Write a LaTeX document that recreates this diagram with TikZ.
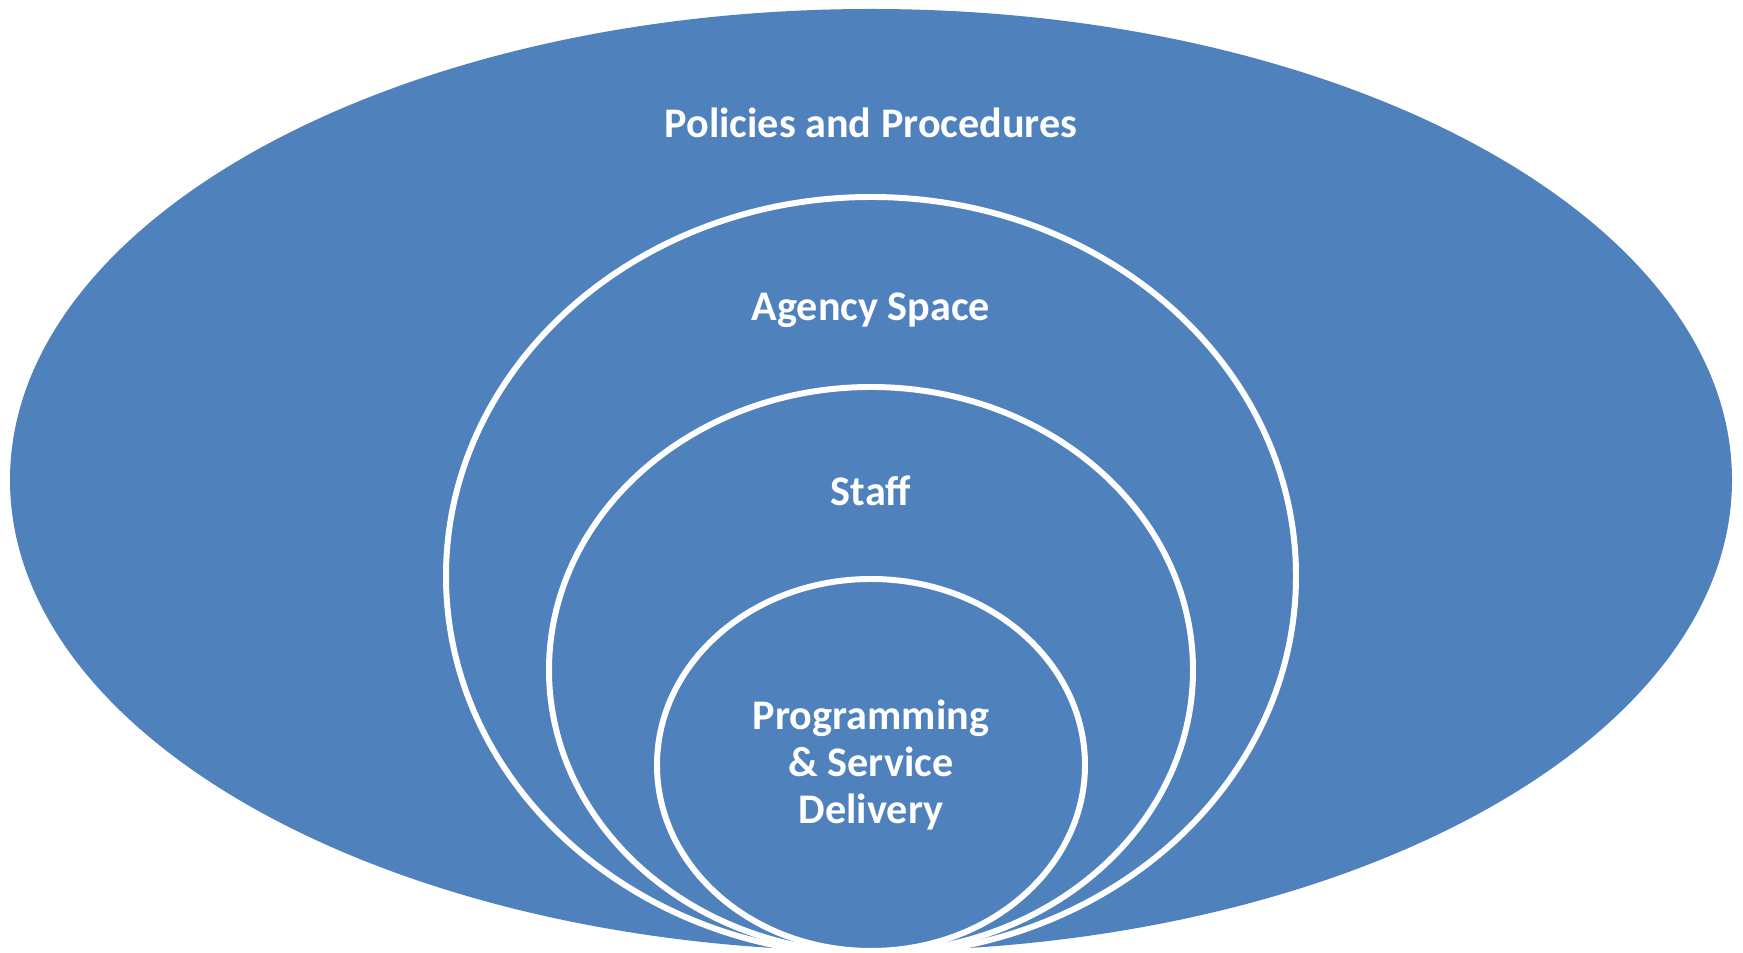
\documentclass[tikz,border=0pt]{standalone}
\usepackage{fontspec}
\setmainfont{Carlito}
\usepackage{xcolor}
\usepackage{tikz}
\usetikzlibrary{positioning, shapes.geometric}

\definecolor{layerblue}{HTML}{4F81BD}

\begin{document}
\begin{tikzpicture}[
    layer/.style={ellipse, fill=layerblue, inner sep=0pt},
    inner layer/.style={layer, draw=white, line width=1.7pt},
    label/.style={text=white, align=center, font=\bfseries\fontsize{12}{13.4}\selectfont}
]

\useasboundingbox (0,0) rectangle (17.43,9.53);

% Nested layers, all touching at the bottom
\node[layer, minimum width=17.22cm, minimum height=9.42cm] (policies) at (8.71, 4.73) {};
\node[inner layer, minimum width=8.50cm, minimum height=7.58cm] (agency) at (8.71, 3.77) {};
\node[inner layer, minimum width=6.44cm, minimum height=5.66cm] (staff) at (8.71, 2.83) {};
\node[inner layer, minimum width=4.28cm, minimum height=3.72cm] (programming) at (8.71, 1.88) {};

% Layer labels
\node[label] (policieslabel) at (8.71, 8.30) {Policies and Procedures};
\node[label] (agencylabel) at (8.71, 6.43) {Agency Space};
\node[label] (stafflabel) at (8.71, 4.62) {Staff};
\node[label] (programminglabel) at (8.71, 1.88) {Programming\\ \& Service\\ Delivery};

\end{tikzpicture}
\end{document}
